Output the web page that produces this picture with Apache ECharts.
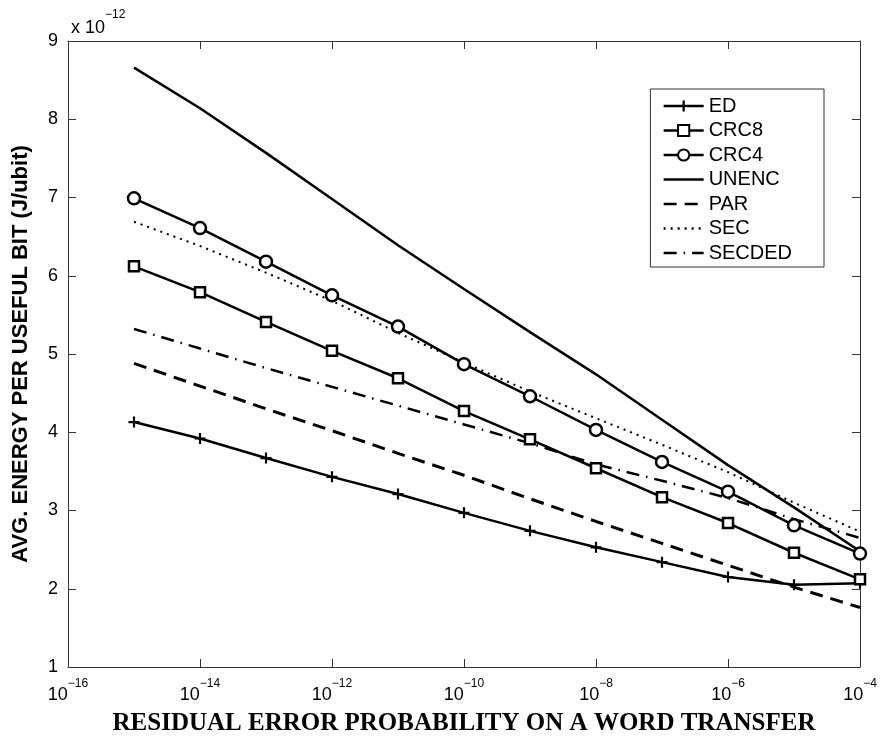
<!DOCTYPE html>
<html>
<head>
<meta charset="utf-8">
<script src="https://cdn.jsdelivr.net/npm/echarts@6/dist/echarts.min.js"></script>
<style>
  html, body { margin: 0; padding: 0; background: #fff; }
  #chart { width: 880px; height: 739px; }
</style>
</head>
<body>
<div id="chart"></div>
<script>
// residual error probability (x) for every curve
const xValues = [1e-15, 1e-14, 1e-13, 1e-12, 1e-11, 1e-10, 1e-9, 1e-8, 1e-7, 1e-6, 1e-5, 1e-4]

// energy per useful bit, in units of 1e-12 J
const ed = [4.13, 3.92, 3.67, 3.43, 3.21, 2.97, 2.74, 2.53, 2.34, 2.15, 2.05, 2.07]
const crc8 = [6.12, 5.79, 5.41, 5.04, 4.69, 4.27, 3.91, 3.54, 3.17, 2.84, 2.46, 2.12]
const crc4 = [6.99, 6.61, 6.18, 5.75, 5.35, 4.87, 4.46, 4.03, 3.62, 3.24, 2.81, 2.45]
const unenc = [8.66, 8.14, 7.57, 6.98, 6.39, 5.83, 5.28, 4.74, 4.16, 3.58, 3.04, 2.48]
const par = [4.88, 4.59, 4.30, 4.02, 3.73, 3.45, 3.15, 2.86, 2.58, 2.30, 2.02, 1.76]
const sec = [6.69, 6.38, 6.04, 5.68, 5.27, 4.89, 4.52, 4.18, 3.84, 3.49, 3.10, 2.73]
const secded = [5.32, 5.07, 4.82, 4.58, 4.34, 4.10, 3.86, 3.59, 3.38, 3.16, 2.89, 2.65]

const seriesNames = ['ED', 'CRC8', 'CRC4', 'UNENC', 'PAR', 'SEC', 'SECDED']

const sans = 'Liberation Sans'
const plusPath = 'path://M4,0h2v4h4v2h-4v4h-2v-4h-4v-2h4z'

function pairs(ys) {
  return xValues.map((x, i) => [x, ys[i]])
}

function expLabel(value) {
  const e = Math.round(Math.log10(value))
  return '{b|10}{s|' + (e < 0 ? '\u2212' + (-e) : e) + '}'
}

const chart = echarts.init(document.getElementById('chart'), null, { renderer: 'canvas' })

const xBase = {
  type: 'log',
  logBase: 10,
  min: 1e-16,
  max: 1e-4,
  interval: 2,
  axisLine: { lineStyle: { color: '#333', width: 1 } },
  axisTick: { inside: true, length: 8, lineStyle: { color: '#333' } },
  splitLine: { show: false },
  minorTick: { show: false }
}
const yBase = {
  type: 'value',
  min: 1,
  max: 9,
  interval: 1,
  axisLine: { show: true, lineStyle: { color: '#333', width: 1 } },
  axisTick: { show: true, inside: true, length: 8, lineStyle: { color: '#333' } },
  splitLine: { show: false }
}

// legend entries: plain line styles get no marker in the key
const legendData = seriesNames.map(name => {
  const marked = name === 'ED' || name === 'CRC8' || name === 'CRC4'
  return marked ? { name } : { name, itemStyle: { opacity: 0 } }
})

const option = {
  backgroundColor: '#fff',
  animation: false,
  grid: { left: 68, right: 20, top: 41, bottom: 72, containLabel: false, outerBoundsMode: 'none' },
  graphic: [{
    type: 'text',
    left: 71,
    top: 9,
    style: {
      text: '{a|x 10}{s|\u221212}',
      rich: {
        a: { fontFamily: sans, fontSize: 18, fill: '#000', lineHeight: 28, verticalAlign: 'bottom' },
        s: { fontFamily: sans, fontSize: 12, fill: '#000', lineHeight: 14, verticalAlign: 'top' }
      }
    }
  }],
  legend: {
    orient: 'vertical',
    right: 56,
    top: 89,
    padding: [7, 32, 4, 12],
    backgroundColor: '#fff',
    borderColor: '#333',
    borderWidth: 1,
    itemWidth: 40,
    itemHeight: 14,
    itemGap: 4.5,
    lineStyle: { width: 2.5 },
    textStyle: { fontFamily: sans, fontSize: 20, color: '#000', lineHeight: 20 },
    data: legendData
  },
  xAxis: [
    Object.assign({}, xBase, {
      position: 'bottom',
      name: 'RESIDUAL ERROR PROBABILITY ON A WORD TRANSFER',
      nameLocation: 'middle',
      nameGap: 44,
      nameTextStyle: { fontFamily: 'Liberation Serif', fontWeight: 'bold', fontSize: 25, color: '#000' },
      axisLabel: {
        margin: 11,
        formatter: expLabel,
        rich: {
          b: { fontFamily: sans, fontSize: 18, color: '#000', lineHeight: 26, verticalAlign: 'bottom' },
          s: { fontFamily: sans, fontSize: 12, color: '#000', lineHeight: 14, verticalAlign: 'top' }
        }
      }
    }),
    Object.assign({}, xBase, { position: 'top', axisLabel: { show: false } })
  ],
  yAxis: [
    Object.assign({}, yBase, {
      position: 'left',
      name: 'AVG. ENERGY PER USEFUL BIT (J/ubit)',
      nameLocation: 'middle',
      nameGap: 36,
      nameTextStyle: { fontFamily: sans, fontWeight: 'bold', fontSize: 22, color: '#000' },
      axisLabel: { margin: 10, fontFamily: sans, fontSize: 18, color: '#000' }
    }),
    Object.assign({}, yBase, { position: 'right', axisLabel: { show: false } })
  ],
  series: [
    {
      name: 'ED', type: 'line', data: pairs(ed),
      symbol: plusPath, symbolSize: 11,
      itemStyle: { color: '#000' },
      lineStyle: { color: '#000', width: 2.5 }
    },
    {
      name: 'CRC8', type: 'line', data: pairs(crc8),
      symbol: 'rect', symbolSize: 10,
      itemStyle: { color: '#fff', borderColor: '#000', borderWidth: 2.5 },
      lineStyle: { color: '#000', width: 2.5 }
    },
    {
      name: 'CRC4', type: 'line', data: pairs(crc4),
      symbol: 'circle', symbolSize: 12,
      itemStyle: { color: '#fff', borderColor: '#000', borderWidth: 2.5 },
      lineStyle: { color: '#000', width: 2.5 }
    },
    {
      name: 'UNENC', type: 'line', data: pairs(unenc),
      symbol: 'none', itemStyle: { color: '#000' },
      lineStyle: { color: '#000', width: 2.5 }
    },
    {
      name: 'PAR', type: 'line', data: pairs(par),
      symbol: 'none', itemStyle: { color: '#000' },
      lineStyle: { color: '#000', width: 3, type: [13, 8] }
    },
    {
      name: 'SEC', type: 'line', data: pairs(sec),
      symbol: 'none', itemStyle: { color: '#000' },
      lineStyle: { color: '#000', width: 2, type: [2, 5] }
    },
    {
      name: 'SECDED', type: 'line', data: pairs(secded),
      symbol: 'none', itemStyle: { color: '#000' },
      lineStyle: { color: '#000', width: 2.5, type: [13, 7, 1.5, 7] }
    }
  ]
}

chart.setOption(option)
</script>
</body>
</html>
